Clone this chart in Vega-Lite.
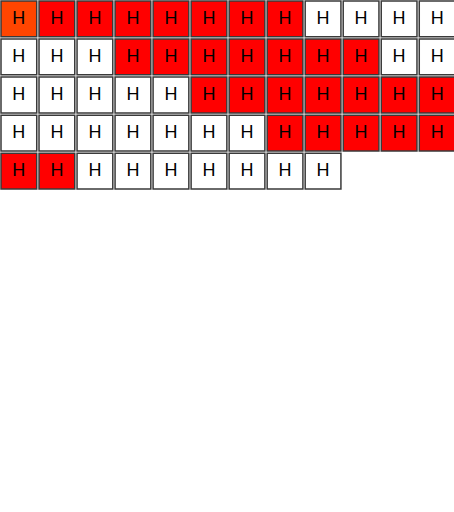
{
  "$schema": "https://vega.github.io/schema/vega-lite/v6.json",
  "width": 454,
  "height": 188,
  "padding": 0,
  "background": "white",
  "config": {"view": {"stroke": null}},
  "data": {"values": [
    {"c":0,"r":0,"s":"a"},{"c":1,"r":0,"s":"b"},{"c":2,"r":0,"s":"b"},{"c":3,"r":0,"s":"b"},{"c":4,"r":0,"s":"b"},{"c":5,"r":0,"s":"b"},{"c":6,"r":0,"s":"b"},{"c":7,"r":0,"s":"b"},{"c":8,"r":0,"s":"w"},{"c":9,"r":0,"s":"w"},{"c":10,"r":0,"s":"w"},{"c":11,"r":0,"s":"w"},
    {"c":0,"r":1,"s":"w"},{"c":1,"r":1,"s":"w"},{"c":2,"r":1,"s":"w"},{"c":3,"r":1,"s":"b"},{"c":4,"r":1,"s":"b"},{"c":5,"r":1,"s":"b"},{"c":6,"r":1,"s":"b"},{"c":7,"r":1,"s":"b"},{"c":8,"r":1,"s":"b"},{"c":9,"r":1,"s":"b"},{"c":10,"r":1,"s":"w"},{"c":11,"r":1,"s":"w"},
    {"c":0,"r":2,"s":"w"},{"c":1,"r":2,"s":"w"},{"c":2,"r":2,"s":"w"},{"c":3,"r":2,"s":"w"},{"c":4,"r":2,"s":"w"},{"c":5,"r":2,"s":"b"},{"c":6,"r":2,"s":"b"},{"c":7,"r":2,"s":"b"},{"c":8,"r":2,"s":"b"},{"c":9,"r":2,"s":"b"},{"c":10,"r":2,"s":"b"},{"c":11,"r":2,"s":"b"},
    {"c":0,"r":3,"s":"w"},{"c":1,"r":3,"s":"w"},{"c":2,"r":3,"s":"w"},{"c":3,"r":3,"s":"w"},{"c":4,"r":3,"s":"w"},{"c":5,"r":3,"s":"w"},{"c":6,"r":3,"s":"w"},{"c":7,"r":3,"s":"b"},{"c":8,"r":3,"s":"b"},{"c":9,"r":3,"s":"b"},{"c":10,"r":3,"s":"b"},{"c":11,"r":3,"s":"b"},
    {"c":0,"r":4,"s":"b"},{"c":1,"r":4,"s":"b"},{"c":2,"r":4,"s":"w"},{"c":3,"r":4,"s":"w"},{"c":4,"r":4,"s":"w"},{"c":5,"r":4,"s":"w"},{"c":6,"r":4,"s":"w"},{"c":7,"r":4,"s":"w"},{"c":8,"r":4,"s":"w"}
  ]},
  "encoding": {
    "x": {"field": "c", "type": "ordinal", "axis": null, "scale": {"domain": [0,1,2,3,4,5,6,7,8,9,10,11], "paddingInner": 0.06, "paddingOuter": 0}},
    "y": {"field": "r", "type": "ordinal", "axis": null, "scale": {"domain": [0,1,2,3,4], "paddingInner": 0.06, "paddingOuter": 0}}
  },
  "layer": [
    {
      "mark": {"type": "rect", "stroke": "#3a3a3a", "strokeWidth": 1.5},
      "encoding": {
        "fill": {"field": "s", "type": "nominal", "legend": null, "scale": {"domain": ["a","b","w"], "range": ["#ff4500", "#ff0000", "#ffffff"]}}
      }
    },
    {
      "mark": {"type": "text", "text": "H", "font": "Liberation Sans", "fontSize": 18, "fill": "#000000", "baseline": "middle", "align": "center"},
      "encoding": {}
    }
  ]
}
